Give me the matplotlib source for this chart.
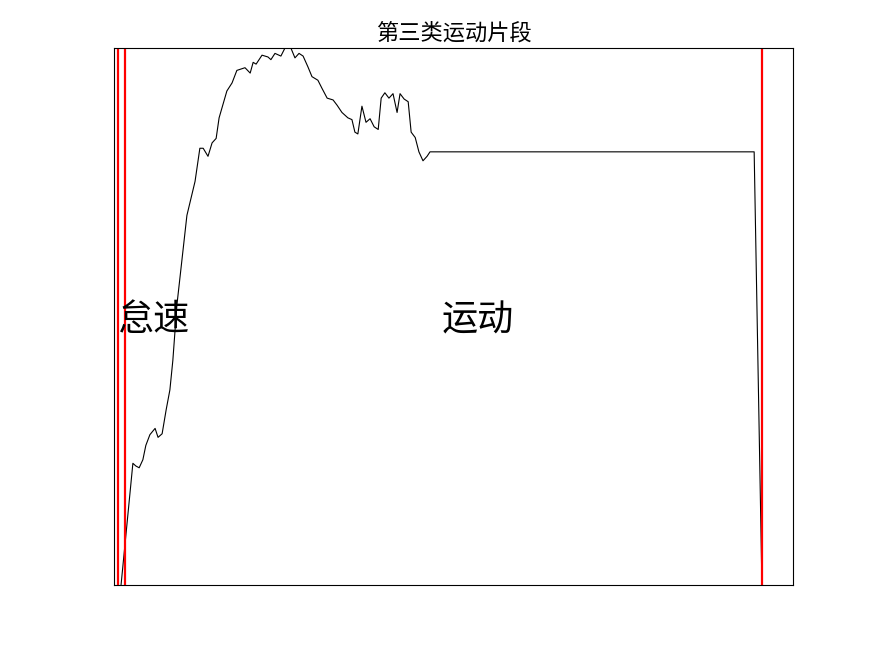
#第三类运动片段　速度曲线

import matplotlib.pyplot as plt
import numpy as np

plt.rcParams['font.family'] = ['Noto Sans CJK SC', 'DejaVu Sans']

#データ（時間 s, 速度 km/h）
t = [1.9, 5.1, 5.9, 6.8, 7.8, 8.6, 9.7, 11.1, 11.9, 13.0, 14.1, 15.1, 15.9,
     17.0, 19.7, 21.9, 23.2, 24.1, 25.4, 26.5, 27.6, 28.4, 30.5, 31.9, 33.2,
     35.4, 36.8, 37.6, 38.4, 40.0, 41.6, 42.4, 43.5, 45.1, 46.2, 47.8, 48.9,
     50.0, 51.1, 52.4, 53.5, 55.1, 56.2, 57.6, 59.2, 60.3, 61.6, 63.2, 64.3,
     65.1, 65.9, 67.0, 68.1, 69.2, 70.3, 71.4, 72.2, 73.2, 74.3, 75.4, 76.5,
     77.3, 78.4, 79.5, 80.3, 81.4, 82.4, 83.5, 84.6, 85.4, 173.0, 175.1]
v = [0, 13.6, 13.3, 13.1, 14.0, 15.6, 16.8, 17.5, 16.5, 16.9, 19.6, 21.8, 25.1,
     31.3, 41.3, 45.1, 48.8, 48.8, 47.9, 49.4, 49.9, 52.2, 55.2, 56.1, 57.5,
     57.8, 57.2, 58.4, 58.2, 59.2, 59.0, 58.7, 59.4, 59.1, 60.0, 60.0, 58.9,
     59.4, 59.1, 57.9, 56.8, 56.4, 55.5, 54.4, 54.2, 53.6, 52.8, 52.2, 52.0,
     50.6, 50.4, 53.5, 51.7, 52.1, 51.2, 50.9, 54.4, 55.0, 54.4, 54.9, 52.8,
     54.9, 54.3, 54.0, 50.6, 50.0, 48.4, 47.4, 47.9, 48.4, 48.4, 0]

#区切り線（怠速の始まり・終わり、運動の終わり）
bounds = [1.1, 3.0, 175.1]
labels = ['怠速', '运动']
label_x = [1.1, 88.6]

fig = plt.figure(figsize=(8.75, 6.56), dpi=100)
ax = fig.add_axes([0.1303, 0.1082, 0.776, 0.8186])

ax.plot(t, v, color='black', linewidth=0.8)
for b in bounds:
    ax.axvline(b, color='red', linewidth=1.6)

ax.set(xlim=(0, 183.5), ylim=(0, max(v)), xticks=[], yticks=[])
for s in ax.spines.values():
    s.set_linewidth(0.8)

for x, lab in zip(label_x, labels):
    ax.text(x, 29.6, lab, fontsize=26, ha='left', va='center')

ax.set_title('第三类运动片段', fontsize=16, pad=6)

fig.savefig('out.png', dpi=100)
